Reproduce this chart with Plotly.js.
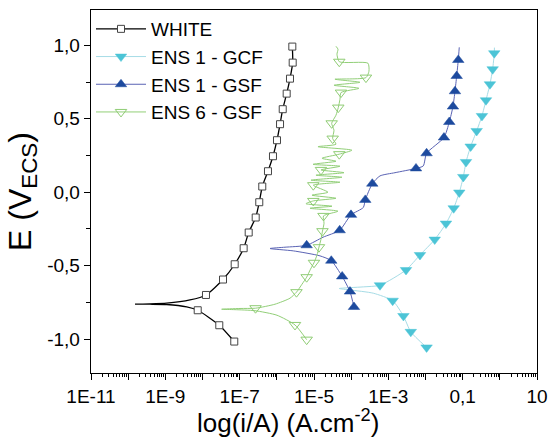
<!DOCTYPE html>
<html>
<head>
<meta charset="utf-8">
<script src="https://cdn.plot.ly/plotly-3.0.1.min.js"></script>
<style>html,body{margin:0;padding:0;background:#fff;}#chart{width:549px;height:446px;}</style>
</head>
<body>
<div id="chart"></div>
<script>
// ---- data: current density i (A/cm2) and potential E (V vs ECS) ----
const whiteI = [7.16e-8, 2.83e-8, 7.43e-9, 3.76e-9, 1.09e-9, 3.86e-10, 1.53e-10, 3.86e-10, 1.09e-9, 4.60e-9,
  1.24e-8, 3.56e-8, 7.35e-8, 1.28e-7, 1.75e-7, 2.70e-7, 3.37e-7, 4.06e-7, 5.78e-7, 7.87e-7,
  1.01e-6, 1.22e-6, 1.44e-6, 1.84e-6, 2.26e-6, 2.67e-6, 2.61e-6];
const whiteE = [-1.016, -0.905, -0.803, -0.780, -0.764, -0.762, -0.762, -0.760, -0.755, -0.733,
  -0.699, -0.594, -0.490, -0.381, -0.274, -0.172, -0.068, 0.039, 0.143, 0.245,
  0.354, 0.463, 0.565, 0.671, 0.773, 0.882, 0.991];
const whiteMarks = [0, 1, 2, 10, 11, 12, 13, 14, 15, 16, 17, 18, 19, 20, 21, 22, 23, 24, 25, 26];

const gcfI = [1.07e-2, 4.02e-3, 2.55e-3, 1.31e-3, 3.94e-4, 9.29e-5, 4.79e-5, 2.12e-4, 5.96e-4, 2.99e-3,
  7.10e-3, 1.77e-2, 3.56e-2, 5.73e-2, 8.11e-2, 0.104, 0.123, 0.164, 0.238, 0.330,
  0.424, 0.542, 0.641, 0.708, 0.716];
const gcfE = [-1.056, -0.950, -0.842, -0.738, -0.687, -0.665, -0.655, -0.644, -0.633, -0.529,
  -0.427, -0.322, -0.213, -0.109, -0.002, 0.104, 0.206, 0.311, 0.417, 0.519,
  0.626, 0.735, 0.837, 0.946, 0.984];
const gcfMarks = [0, 1, 2, 3, 8, 9, 10, 11, 12, 13, 14, 15, 16, 17, 18, 19, 20, 21, 22, 23];

const gsfI = [1.19e-4, 9.29e-5, 5.73e-5, 2.92e-5, 1.45e-5, 2.77e-6, 6.55e-7, 1.66e-6, 6.35e-6, 1.75e-5,
  4.91e-5, 9.89e-5, 2.12e-4, 2.40e-4, 3.70e-4, 5.96e-4, 1.51e-3, 5.55e-3, 8.71e-3, 1.07e-2,
  3.14e-2, 4.37e-2, 5.48e-2, 6.21e-2, 6.90e-2, 7.62e-2, 8.09e-2];
const gsfE = [-0.781, -0.676, -0.573, -0.466, -0.433, -0.399, -0.383, -0.374, -0.361, -0.306,
  -0.259, -0.154, -0.104, -0.052, 0.058, 0.111, 0.133, 0.162, 0.179, 0.265,
  0.372, 0.478, 0.583, 0.687, 0.791, 0.900, 0.986];
const gsfMarks = [0, 1, 2, 3, 8, 10, 11, 13, 14, 17, 19, 20, 21, 22, 23, 24, 25];

const ens6I = [6.35e-6, 3.08e-6, 1.01e-6, 2.58e-7, 7.48e-8, 3.28e-8, 1.02e-7, 2.67e-7, 8.91e-7, 2.26e-6,
  3.38e-6, 4.75e-6, 6.35e-6, 8.04e-6, 9.98e-6, 1.20e-5, 1.36e-5, 1.54e-5, 1.69e-5, 1.86e-5,
  1.80e-5, 4.42e-5, 7.80e-6, 3.05e-5, 6.08e-6, 9.57e-6, 3.90e-5, 8.83e-6, 2.38e-5, 9.57e-6,
  5.00e-5, 8.30e-6, 5.66e-5, 1.13e-5, 6.41e-5, 1.54e-5, 5.00e-5, 9.40e-6, 3.90e-5, 1.64e-5,
  4.79e-5, 1.05e-4, 1.28e-5, 3.90e-5, 3.18e-5, 3.45e-5, 2.99e-5, 3.90e-5, 4.50e-5, 5.00e-5,
  5.32e-5, 1.62e-4, 3.45e-5, 1.73e-4, 3.66e-5, 2.50e-4, 3.01e-4, 2.83e-4, 4.79e-5, 4.15e-5,
  4.42e-5, 3.90e-5];
const ens6E = [-1.003, -0.903, -0.837, -0.806, -0.799, -0.796, -0.791, -0.789, -0.762, -0.721,
  -0.680, -0.626, -0.578, -0.524, -0.480, -0.429, -0.374, -0.320, -0.265, -0.211,
  -0.161, -0.129, -0.109, -0.095, -0.078, -0.059, -0.041, -0.020, 0.000, 0.048,
  0.068, 0.082, 0.102, 0.116, 0.133, 0.152, 0.177, 0.190, 0.211, 0.231,
  0.259, 0.286, 0.310, 0.327, 0.365, 0.422, 0.469, 0.524, 0.576, 0.633,
  0.678, 0.707, 0.728, 0.748, 0.769, 0.780, 0.823, 0.878, 0.888, 0.939,
  0.973, 0.993];
const ens6Marks = [0, 1, 7, 10, 12, 14, 16, 18, 20, 25, 29, 35, 40, 44, 46, 48, 50, 55, 58];

const seriesNames = ['WHITE', 'ENS 1 - GCF', 'ENS 1 - GSF', 'ENS 6 - GSF'];
const xTickVals = [1e-11, 1e-9, 1e-7, 1e-5, 1e-3, 0.1, 10];
const xTickText = ['1E-11', '1E-9', '1E-7', '1E-5', '1E-3', '0,1', '10'];
const xOddDecades = [1e-10, 1e-8, 1e-6, 1e-4, 1e-2, 1];
const yTickVals = [-1, -0.5, 0, 0.5, 1];
const yTickText = ['-1,0', '-0,5', '0,0', '0,5', '1,0'];
const xTitle = 'log(i/A) (A.cm<sup>-2</sup>)';
const yTitle = 'E (V<sub>ECS</sub>)';

// ---- build ----
const FONT = 'Liberation Sans, Arial, Helvetica, sans-serif';
const styles = [
  {line: '#000000', lw: 1.3, sym: 'square', size: 7, fill: '#ffffff', edge: '#444444', ew: 1},
  {line: '#a6dce6', lw: 1, sym: 'triangle-down', size: 10, fill: '#4cc4d6', edge: '#4cc4d6', ew: 0.5},
  {line: '#5a63b4', lw: 1, sym: 'triangle-up', size: 10, fill: '#1d4a9e', edge: '#1d4a9e', ew: 0.5},
  {line: '#92cf78', lw: 1, sym: 'triangle-down-open', size: 10, fill: '#8fcc74', edge: '#8fcc74', ew: 1}
];
const data = [[whiteI, whiteE, whiteMarks], [gcfI, gcfE, gcfMarks], [gsfI, gsfE, gsfMarks], [ens6I, ens6E, ens6Marks]];

const traces = [];
data.forEach((d, k) => {
  const s = styles[k];
  traces.push({x: d[0], y: d[1], mode: 'lines', type: 'scatter', showlegend: false,
    line: {color: s.line, width: s.lw, shape: 'spline', smoothing: 0.6}, hoverinfo: 'skip'});
});
data.forEach((d, k) => {
  const s = styles[k];
  traces.push({x: d[2].map(i => d[0][i]), y: d[2].map(i => d[1][i]), mode: 'markers', type: 'scatter',
    showlegend: false, marker: {symbol: s.sym, size: s.size, color: s.fill, line: {color: s.edge, width: s.ew}}});
});
data.forEach((d, k) => {
  const s = styles[k];
  traces.push({x: [null], y: [null], mode: 'lines+markers', type: 'scatter', name: seriesNames[k],
    line: {color: s.line, width: s.lw}, marker: {symbol: s.sym, size: s.size, color: s.fill, line: {color: s.edge, width: s.ew}}});
});

const minorX = [];
for (let e = -11; e < 1; e++) for (let m = 2; m <= 9; m++) minorX.push(m * Math.pow(10, e));

const layout = {
  width: 549, height: 446,
  margin: {l: 91, r: 12, t: 10, b: 73},
  paper_bgcolor: '#ffffff', plot_bgcolor: '#ffffff',
  font: {family: FONT, color: '#000'},
  showlegend: true,
  legend: {x: 0, y: 1, xanchor: 'left', yanchor: 'top', bgcolor: 'rgba(0,0,0,0)',
    font: {size: 19, family: FONT, color: '#000'}, itemwidth: 50, tracegroupgap: 0},
  xaxis: {
    type: 'log', range: [-11, 1],
    tickmode: 'array', tickvals: xTickVals, ticktext: xTickText,
    ticks: 'outside', ticklen: 6, tickwidth: 1, tickcolor: '#000',
    minor: {tickmode: 'array', tickvals: minorX, ticks: 'outside', ticklen: 3, tickwidth: 1, tickcolor: '#000'},
    showline: true, linecolor: '#000', linewidth: 1.3, mirror: true,
    showgrid: false, zeroline: false,
    tickfont: {size: 19, family: FONT}
  },
  xaxis2: {
    type: 'log', range: [-11, 1], overlaying: 'x', anchor: 'y', side: 'bottom',
    tickmode: 'array', tickvals: xOddDecades, showticklabels: false,
    ticks: 'outside', ticklen: 6, tickwidth: 1, tickcolor: '#000',
    showline: false, showgrid: false, zeroline: false
  },
  yaxis: {
    range: [-1.23, 1.24],
    tickmode: 'array', tickvals: yTickVals, ticktext: yTickText,
    ticks: 'outside', ticklen: 6, tickwidth: 1, tickcolor: '#000',
    minor: {tickmode: 'array', tickvals: [-0.75, -0.25, 0.25, 0.75], ticks: 'outside', ticklen: 4, tickwidth: 1, tickcolor: '#000'},
    showline: true, linecolor: '#000', linewidth: 1.3, mirror: true,
    showgrid: false, zeroline: false,
    tickfont: {size: 19, family: FONT},
    title: {text: yTitle, font: {size: 32, family: FONT}, standoff: 6}
  },
  annotations: [{
    text: xTitle, xref: 'paper', yref: 'paper', x: 0.4406, y: -0.134,
    xanchor: 'center', yanchor: 'middle', showarrow: false,
    font: {size: 26, family: FONT, color: '#000'}
  }]
};

// dummy trace to activate the second x axis (odd-decade major ticks)
traces.push({x: [1e-11], y: [null], xaxis: 'x2', yaxis: 'y', mode: 'markers', showlegend: false, hoverinfo: 'skip'});

Plotly.newPlot('chart', traces, layout, {staticPlot: true, displayModeBar: false});
</script>
</body>
</html>
